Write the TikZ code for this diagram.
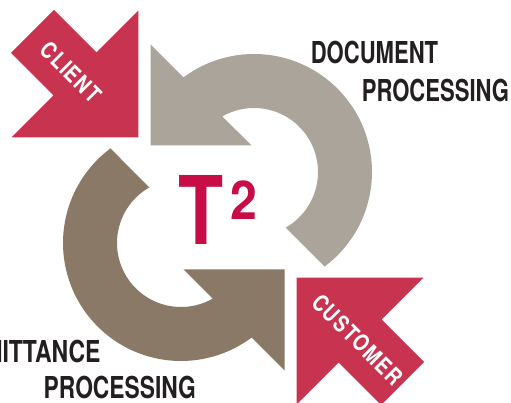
\documentclass[tikz,border=0pt]{standalone}
\usepackage{fontspec}
\newfontfamily\headfont[FakeStretch=0.73]{TeX Gyre Heros}
\newfontfamily\lowfont[FakeStretch=0.755]{TeX Gyre Heros}
\newfontfamily\remfont[FakeStretch=0.762]{TeX Gyre Heros}
\newfontfamily\tagfont[FakeStretch=0.82,LetterSpace=6]{TeX Gyre Heros}
\newfontfamily\markfont[FakeStretch=0.78]{TeX Gyre Heros}
\newfontfamily\digitfont[FakeStretch=0.9]{TeX Gyre Heros}

\definecolor{redarrow}{HTML}{C8334F}
\definecolor{crimson}{HTML}{C80C45}
\definecolor{loopgrey}{HTML}{ABA49A}
\definecolor{loopbrown}{HTML}{8A7966}
\definecolor{inkdark}{HTML}{231F20}

\tikzset{
  headline/.style={font=\headfont\bfseries\fontsize{30.2}{30}\selectfont,
    text=inkdark, inner sep=0pt},
  tag/.style={font=\tagfont\bfseries\fontsize{23}{23}\selectfont,
    text=white, inner sep=0pt, rotate=-45},
  marktext/.style={text=crimson, inner sep=0pt, anchor=base west},
}

\begin{document}
\begin{tikzpicture}[x=1pt,y=-1pt]
\useasboundingbox (0,0) rectangle (511,403);
\clip (0,0) rectangle (511,403);

% straight arrow pointing down-right, head corner at (138.3,137.3)
\fill[redarrow] (54,10) -- (96.5,52.5) -- (138.3,10.7) -- (138.3,137.3)
  -- (11.7,137.3) -- (53.5,95.5) -- (11,53) -- cycle;
% half-ring arrow around (254,172), head pointing down-left
\fill[loopgrey] (150.5,44.5) -- (183.43,77.43)
  -- plot[domain=-126.73:53.27, samples=90] ({254+118*cos(\x)},{172+118*sin(\x)})
  -- plot[domain=60.37:-119.63, samples=60] ({254+64*cos(\x)},{172+64*sin(\x)})
  -- (251.5,145.5) -- (150.5,145.5) -- cycle;

% the same two arrows turned half a turn about the centre
\begin{scope}[rotate around={180:(217.5,207.5)}]
  \fill[redarrow] (54,10) -- (96.5,52.5) -- (138.3,10.7) -- (138.3,137.3)
    -- (11.7,137.3) -- (53.5,95.5) -- (11,53) -- cycle;
  \fill[loopbrown] (150.5,44.5) -- (183.43,77.43)
    -- plot[domain=-126.73:53.27, samples=90] ({254+118*cos(\x)},{172+118*sin(\x)})
    -- plot[domain=60.37:-119.63, samples=60] ({254+64*cos(\x)},{172+64*sin(\x)})
    -- (251.5,145.5) -- (150.5,145.5) -- cycle;
\end{scope}

% arrow tags
\node[tag] (client) at (71,72) {CLIENT};
\node[tag] (customer) at (357.5,339.5) {CUSTOMER};

% centre mark
\node[marktext, font=\markfont\bfseries\fontsize{94.7}{95}\selectfont]
  (tee) at (178.5,244) {T};
\node[marktext, font=\digitfont\bfseries\fontsize{53.5}{54}\selectfont]
  (two) at (229.8,220) {2};

% stage labels
\node[headline, anchor=base west] (doc1) at (310.6,63.3) {DOCUMENT};
\node[headline, anchor=base west] (doc2) at (361.6,101.7) {PROCESSING};
\node[headline, font=\remfont\bfseries\fontsize{30.2}{30}\selectfont,
  anchor=base east] (rem1) at (100.7,362.7) {REMITTANCE};
\node[headline, font=\lowfont\bfseries\fontsize{30.2}{30}\selectfont,
  anchor=base west] (rem2) at (43.5,398.3) {PROCESSING};
\end{tikzpicture}
\end{document}
